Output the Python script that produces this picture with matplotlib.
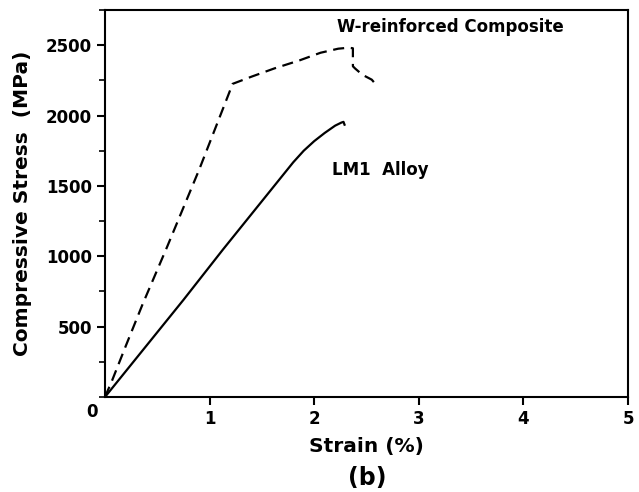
import matplotlib
matplotlib.use('Agg')
import matplotlib.pyplot as plt
from matplotlib.ticker import MultipleLocator

# W-reinforced composite (dashed)
comp_strain = [0.0, 0.07, 0.20, 0.36, 0.59, 0.90, 1.18, 1.22, 1.40, 1.62, 1.86, 2.06, 2.23, 2.33,
               2.37, 2.37, 2.39, 2.46, 2.55, 2.60]
comp_stress = [0, 121, 365, 660, 1060, 1615, 2148, 2225, 2276, 2335, 2392, 2446, 2475, 2482,
               2478, 2350, 2335, 2290, 2255, 2212]

# LM1 alloy (solid)
alloy_strain = [0.0, 0.75, 1.13, 1.80, 1.90, 2.00, 2.10, 2.20, 2.26, 2.28, 2.29]
alloy_stress = [0, 690, 1050, 1668, 1750, 1818, 1876, 1928, 1950, 1955, 1935]

xticks = [1, 2, 3, 4, 5]
yticks = [500, 1000, 1500, 2000, 2500]

plt.rcParams['font.family'] = 'DejaVu Sans'
plt.rcParams['font.weight'] = 'bold'

fig = plt.figure(figsize=(6.39, 4.92), dpi=100)
ax = fig.add_axes([0.1643, 0.1931, 0.8185, 0.7866])

ax.plot(comp_strain, comp_stress, color='black', lw=1.6, linestyle=(0, (5, 3)))
ax.plot(alloy_strain, alloy_stress, color='black', lw=1.6)

ax.set_xlim(0, 5)
ax.set_ylim(0, 2750)
ax.set_xticks(xticks)
ax.set_yticks(yticks)
ax.yaxis.set_minor_locator(MultipleLocator(250))
ax.tick_params(axis='both', which='major', direction='out', length=6, width=1.5,
               labelsize=12)
ax.tick_params(axis='y', which='minor', direction='out', length=4, width=1.2)
for lab in ax.get_xticklabels() + ax.get_yticklabels():
    lab.set_fontweight('bold')
for sp in ax.spines.values():
    sp.set_linewidth(1.5)

# shared origin label
ax.text(-0.124, -107, '0', ha='center', va='center', fontsize=12, fontweight='bold',
        clip_on=False)

ax.set_xlabel('Strain (%)', fontsize=14.5, fontweight='bold', labelpad=6)
ax.set_ylabel('Compressive Stress  (MPa)', fontsize=14.5, fontweight='bold', labelpad=10)

ax.text(3.30, 2632, 'W-reinforced Composite', ha='center', va='center',
        fontsize=12, fontweight='bold')
ax.text(2.17, 1615, 'LM1  Alloy', ha='left', va='center', fontsize=12, fontweight='bold')

fig.text(0.574, 0.028, '(b)', ha='center', va='center', fontsize=17, fontweight='bold')

fig.savefig('out.png', dpi=100)
